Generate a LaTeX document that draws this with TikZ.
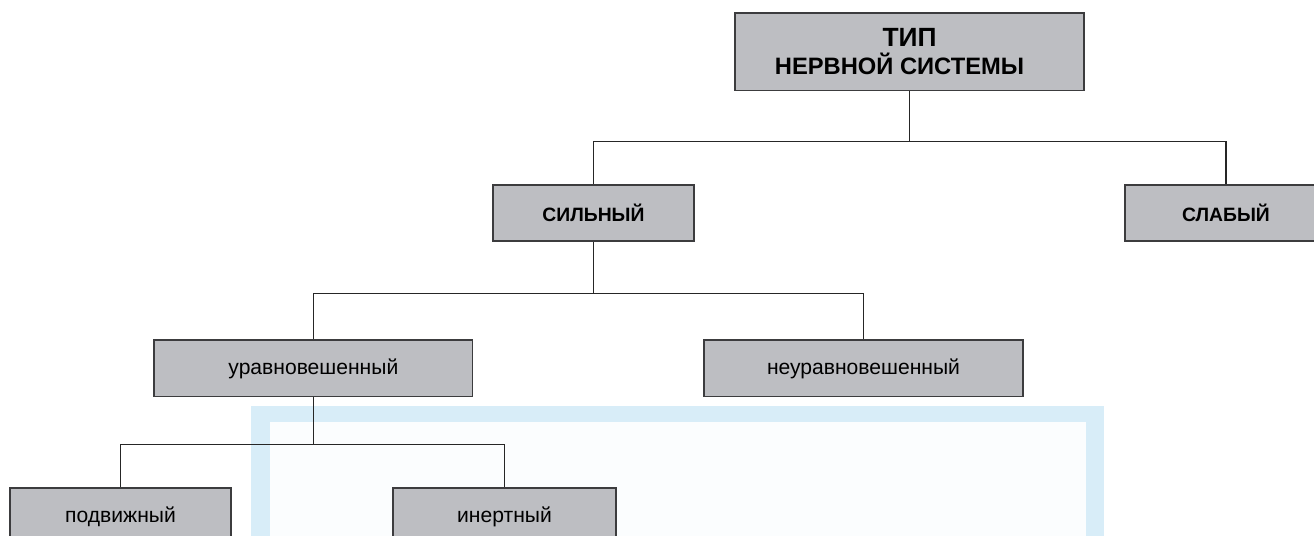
\documentclass[tikz,border=0pt]{standalone}
\usepackage{fontspec}
\setmainfont{Liberation Sans}
\usepackage{tikz}
\definecolor{boxfill}{RGB}{189,190,194}
\definecolor{boxline}{RGB}{60,60,62}
\definecolor{frameblue}{RGB}{216,237,248}
\definecolor{framein}{RGB}{251,253,254}

\begin{document}
\begin{tikzpicture}[x=0.02cm,y=-0.02cm,
  box/.style={draw=boxline,line width=0.9pt,fill=boxfill,inner sep=0pt,align=center,
    minimum height=1.13cm},
  capbox/.style={box,font=\fontsize{11}{13}\selectfont\bfseries},
  lowbox/.style={box,font=\fontsize{12}{14}\selectfont},
  link/.style={draw=black!85,line width=0.6pt}]
  \useasboundingbox (0,0) rectangle (1314,535);
  \clip (0,0) rectangle (1314,535);
  % blue frame behind the lower part
  \fill[frameblue] (251,406) rectangle (1104,560);
  \fill[framein] (270,422) rectangle (1086,560);

  \node[box,minimum width=6.98cm,minimum height=1.56cm,
    font=\fontsize{13.5}{16}\selectfont\bfseries] (type) at (909.5,51.7)
    {{\fontsize{15}{17}\selectfont ТИП}\\
     НЕРВНОЙ СИСТЕМЫ\hspace*{0.4cm}};
  \node[capbox,minimum width=4.02cm] (strong) at (593.5,213) {СИЛЬНЫЙ};
  \node[capbox,minimum width=4.04cm] (weak) at (1226,213) {СЛАБЫЙ};
  \node[lowbox,minimum width=6.37cm] (balanced) at (313.4,368.4) {уравновешенный};
  \node[lowbox,minimum width=6.38cm] (unbalanced) at (863.5,368.4) {неуравновешенный};
  \node[lowbox,minimum width=4.42cm] (mobile) at (120.5,516.5) {подвижный};
  \node[lowbox,minimum width=4.46cm] (inert) at (504.5,516.5) {инертный};

  \draw[link] (type.south) -- ++(0,50) -| (strong.north);
  \draw[link] (type.south) -- ++(0,50) -| (weak.north);
  \draw[link] (strong.south) -- ++(0,51) -| (balanced.north);
  \draw[link] (strong.south) -- ++(0,51) -| (unbalanced.north);
  \draw[link] (balanced.south) -- ++(0,47) -| (mobile.north);
  \draw[link] (balanced.south) -- ++(0,47) -| (inert.north);
\end{tikzpicture}
\end{document}
